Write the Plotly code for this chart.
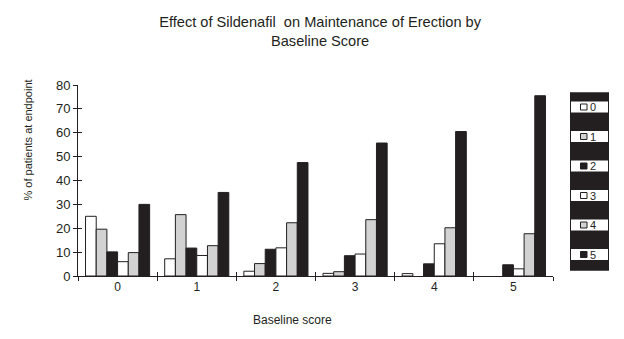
import plotly.graph_objects as go

# Baseline score categories and the share of patients at each endpoint score
categories = ["0", "1", "2", "3", "4", "5"]
series_names = ["0", "1", "2", "3", "4", "5"]
values = {
    "0": [25, 7.2, 2.0, 1.1, 1.0, None],
    "1": [19.6, 25.7, 5.2, 1.8, None, None],
    "2": [10.1, 11.7, 11.2, 8.5, 5.1, 4.7],
    "3": [6.0, 8.6, 11.8, 9.2, 13.5, 3.0],
    "4": [9.8, 12.7, 22.3, 23.6, 20.2, 17.7],
    "5": [30, 35, 47.5, 55.7, 60.5, 75.5],
}
fills = {"0": "#ffffff", "1": "#d2d2d2", "2": "#231f20",
         "3": "#ffffff", "4": "#d2d2d2", "5": "#231f20"}

INK = "#231f20"
FONT = "Liberation Sans, Arial, sans-serif"
W, H = 624, 339
L, R, T, B = 78, 71, 85, 63

fig = go.Figure()
for name in series_names:
    fig.add_trace(go.Bar(
        x=categories, y=values[name], name=name,
        marker=dict(color=fills[name], line=dict(color=INK, width=1)),
        showlegend=False,
    ))

# Helpers to place legend/labels in paper units from pixel positions
plot_w = W - L - R
plot_h = H - T - B
def px_x(p):
    return (p - L) / plot_w
def px_y(p):
    return (H - B - p) / plot_h

shapes = [dict(type="rect", xref="paper", yref="paper",
               x0=px_x(570), x1=px_x(609), y0=px_y(270.7), y1=px_y(92.3),
               fillcolor=INK, line=dict(width=0), layer="above")]
annotations = []
for i, name in enumerate(series_names):
    cy = 107 + i * 29.5
    shapes.append(dict(type="rect", xref="paper", yref="paper",
                       x0=px_x(571), x1=px_x(608), y0=px_y(cy + 5.5), y1=px_y(cy - 5.5),
                       fillcolor="white", line=dict(width=0), layer="above"))
    shapes.append(dict(type="rect", xref="paper", yref="paper",
                       x0=px_x(580.5), x1=px_x(587), y0=px_y(cy + 3), y1=px_y(cy - 3),
                       fillcolor=fills[name], line=dict(color=INK, width=1), layer="above"))
    annotations.append(dict(xref="paper", yref="paper", x=px_x(587.5), y=px_y(cy),
                            text=name, showarrow=False, xanchor="left", yanchor="middle",
                            font=dict(family=FONT, size=11, color=INK)))

annotations.append(dict(xref="paper", yref="paper", x=px_x(27), y=px_y(140.5),
                        text="% of patients at endpoint", textangle=-90, showarrow=False,
                        xanchor="center", yanchor="middle",
                        font=dict(family=FONT, size=11, color=INK)))
annotations.append(dict(xref="paper", yref="paper", x=px_x(292), y=px_y(320),
                        text="Baseline score", showarrow=False,
                        xanchor="center", yanchor="middle",
                        font=dict(family=FONT, size=12, color=INK)))

fig.update_layout(
    width=W, height=H,
    margin=dict(l=L, r=R, t=T, b=B),
    paper_bgcolor="white", plot_bgcolor="white",
    barmode="group", bargap=0.19, bargroupgap=0,
    title=dict(text="Effect of Sildenafil  on Maintenance of Erection by<br>Baseline Score",
               x=0.513, xanchor="center", xref="container",
               y=1 - 27 / H, yanchor="top", yref="container",
               font=dict(family=FONT, size=14.6, color=INK)),
    font=dict(family=FONT, color=INK),
    xaxis=dict(type="category", range=[-0.5, 5.5], showline=True, linecolor=INK, linewidth=1,
               ticks="outside", tickson="boundaries", ticklen=4, tickcolor=INK,
               showgrid=False, zeroline=False,
               tickfont=dict(family=FONT, size=12, color=INK)),
    xaxis2=dict(type="category", overlaying="x", matches="x", range=[-0.5, 5.5],
                ticks="inside", tickson="boundaries", ticklen=4, tickcolor=INK,
                showticklabels=False, showgrid=False, showline=False, zeroline=False,
                anchor="y"),
    yaxis=dict(range=[0, 80], dtick=10, showline=True, linecolor=INK, linewidth=1,
               ticks="outside", ticklen=4, tickcolor=INK, showgrid=False, zeroline=False,
               tickfont=dict(family=FONT, size=13, color=INK)),
    yaxis2=dict(range=[0, 80], dtick=10, overlaying="y", matches="y", anchor="x",
                ticks="inside", ticklen=4, tickcolor=INK, showticklabels=False,
                showgrid=False, showline=False, zeroline=False),
    shapes=shapes, annotations=annotations,
)
# invisible trace so the overlay axes carry their inside ticks
fig.add_trace(go.Scatter(x=categories, y=[0] * len(categories), xaxis="x2", yaxis="y2",
                         mode="markers", marker=dict(opacity=0), showlegend=False,
                         hoverinfo="skip"))

fig.write_html("out.html")
